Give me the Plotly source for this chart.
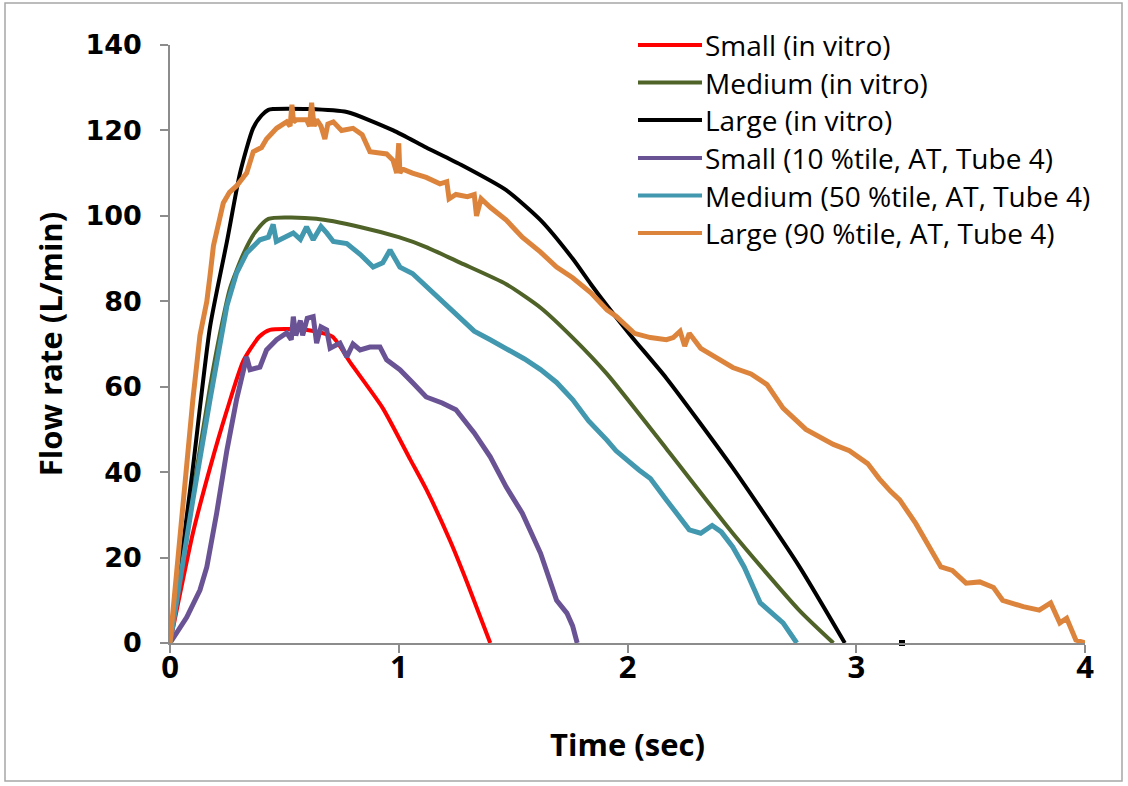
import plotly.graph_objects as go

# ---------------- data ----------------
x_ticks = [0, 1, 2, 3, 4]
y_ticks = [0, 20, 40, 60, 80, 100, 120, 140]

names = ["Small (in vitro)", "Medium (in vitro)", "Large (in vitro)",
         "Small (10 %tile, AT, Tube 4)", "Medium (50 %tile, AT, Tube 4)",
         "Large (90 %tile, AT, Tube 4)"]
colors = ["#FF0000", "#4F6228", "#000000", "#6A5394", "#4198AF", "#DD843C"]

small_vitro_t = [0, 0.1, 0.175, 0.249, 0.32, 0.39, 0.437, 0.6, 0.71, 0.79, 0.93, 1.05, 1.12, 1.224, 1.30, 1.40]
small_vitro_q = [0, 25.7, 41, 54.5, 66, 71.7, 73.3, 73.3, 71.7, 65.5, 55, 43, 36, 24, 14, 0]

medium_vitro_t = [0, 0.1, 0.175, 0.219, 0.262, 0.32, 0.37, 0.43, 0.64, 0.83, 1.0, 1.12, 1.27, 1.47, 1.62, 1.76, 1.91, 2.17, 2.46, 2.75, 2.90]
medium_vitro_q = [0, 35, 60, 72.6, 83, 91, 96, 99.3, 99.3, 97.4, 95, 92.7, 89, 84, 78.5, 71.5, 63, 45.5, 25.7, 7.7, 0]

large_vitro_t = [0, 0.05, 0.1, 0.175, 0.249, 0.306, 0.363, 0.40, 0.43, 0.45, 0.6, 0.773, 0.976, 1.12, 1.27, 1.47, 1.62, 1.76, 1.84, 1.91, 2.02, 2.17, 2.46, 2.75, 2.95]
large_vitro_q = [0, 20, 41, 74, 94, 110, 120.5, 123.5, 124.8, 125, 125, 124.3, 120, 116, 112, 106, 99, 90, 84, 79, 71.6, 62, 41, 18, 0]

small_at_t = [0, 0.073, 0.131, 0.161, 0.204, 0.249, 0.291, 0.32, 0.335, 0.35, 0.393, 0.422, 0.466, 0.51, 0.53, 0.539,
              0.55, 0.57, 0.58, 0.60, 0.626, 0.641, 0.66, 0.685, 0.70, 0.743, 0.773, 0.80, 0.831, 0.874, 0.918, 0.947,
              1.005, 1.06, 1.12, 1.19, 1.25, 1.33, 1.40, 1.47, 1.54, 1.62, 1.69, 1.735, 1.76, 1.78]
small_at_q = [0, 6, 12.4, 17.8, 30.4, 45.2, 57, 64, 67, 64, 64.6, 68.6, 71, 72.6, 71, 76.4,
              72, 75.5, 72, 76, 76.4, 70.2, 74, 73.3, 69, 70.2, 67, 70, 68.6, 69.3, 69.3, 66.3,
              64, 61, 57.6, 56.2, 54.6, 49.2, 43.6, 36.5, 30.4, 21, 10, 7, 4, 0]

medium_at_t = [0, 0.029, 0.1, 0.175, 0.219, 0.249, 0.291, 0.335, 0.393, 0.43, 0.451, 0.465, 0.48, 0.539, 0.57, 0.597,
               0.626, 0.66, 0.685, 0.714, 0.773, 0.831, 0.888, 0.93, 0.962, 1.005, 1.06, 1.12, 1.19, 1.25, 1.33, 1.40,
               1.47, 1.55, 1.62, 1.69, 1.76, 1.83, 1.91, 1.95, 2.05, 2.10, 2.17, 2.22, 2.27, 2.32, 2.37, 2.41, 2.46,
               2.51, 2.58, 2.68, 2.74]
medium_at_q = [0, 10, 33.5, 57, 71, 79, 86.6, 91.3, 94.4, 95, 98, 94, 94.4, 96, 94.5, 97.4,
               94.4, 97.5, 96, 94, 93.5, 91, 88, 89, 92, 88, 86.5, 83.5, 80, 77, 73, 71,
               69, 66.5, 64, 61, 57, 52, 47.5, 45, 40.5, 38.5, 33.5, 30, 26.5, 25.7, 27.5, 26, 22.5,
               17.8, 9.4, 4.7, 0]

large_at_t = [0, 0.02, 0.044, 0.07, 0.1, 0.131, 0.161, 0.175, 0.19, 0.233, 0.26, 0.291, 0.335, 0.364, 0.40, 0.422,
              0.466, 0.51, 0.525, 0.533, 0.54, 0.553, 0.597, 0.61, 0.619, 0.63, 0.641, 0.66, 0.677, 0.69, 0.714,
              0.75, 0.80, 0.84, 0.874, 0.947, 0.975, 0.991, 1.0, 1.005, 1.015, 1.06, 1.12, 1.18, 1.21, 1.22, 1.25,
              1.30, 1.33, 1.34, 1.36, 1.40, 1.47, 1.54, 1.62, 1.69, 1.76, 1.84, 1.91, 1.95, 1.98, 2.03, 2.10, 2.17,
              2.20, 2.23, 2.25, 2.27, 2.32, 2.40, 2.46, 2.54, 2.61, 2.68, 2.78, 2.90, 2.97, 3.05, 3.10, 3.15, 3.19,
              3.26, 3.32, 3.37, 3.42, 3.48, 3.54, 3.60, 3.64, 3.73, 3.80, 3.85, 3.89, 3.92, 3.96, 4.0]
large_at_q = [0, 12, 26, 42, 57, 72, 80, 86, 93, 103, 105.5, 107, 110, 115, 116, 118,
              120.5, 122, 121, 126, 122, 122.5, 122.5, 121, 126.5, 121, 122.5, 121, 118, 121.5, 122,
              120, 120.5, 119, 115, 114.5, 113, 110, 117, 110, 111, 110, 109, 107.5, 108, 104, 105,
              104.5, 105, 100, 104, 102, 99, 95, 91.5, 88, 85.5, 82, 78, 76.5, 75, 72.5, 71.5, 71,
              71.5, 73, 69.5, 72.5, 69, 66.5, 64.5, 63, 60.5, 55, 50, 46.5, 45, 42, 38.5, 35.5, 33.5,
              28, 22.5, 17.8, 17, 14, 14.3, 13, 10, 8.5, 7.7, 9.4, 4.7, 5.8, 0.7, 0]

stray_t = [3.2]
stray_q = [0]

series_t = [small_vitro_t, medium_vitro_t, large_vitro_t, small_at_t, medium_at_t, large_at_t]
series_q = [small_vitro_q, medium_vitro_q, large_vitro_q, small_at_q, medium_at_q, large_at_q]
widths = [4, 4, 4, 5, 5, 5]
shapes_kind = ["spline", "spline", "spline", "linear", "linear", "linear"]

# ---------------- figure ----------------
W, H = 1128, 786
ML, MR, MT, MB = 170, 43, 45, 143
PW, PH = W - ML - MR, H - MT - MB


def px2paper_x(px):
    return (px - ML) / PW


def px2paper_y(py):
    return (H - MB - py) / PH


fig = go.Figure()
for t, q, n, c, w, sk in zip(series_t, series_q, names, colors, widths, shapes_kind):
    line = dict(color=c, width=w, shape=sk)
    if sk == "spline":
        line["smoothing"] = 0.6
    fig.add_trace(go.Scatter(x=t, y=q, name=n, mode="lines", line=line, showlegend=False))
fig.add_trace(go.Scatter(x=stray_t, y=stray_q, mode="markers", showlegend=False,
                         marker=dict(color="black", size=6, symbol="square"),
                         cliponaxis=False))

axis_color = "#8C8C8C"
fig.update_xaxes(range=[0, 4], tickvals=x_ticks, showline=True, linecolor=axis_color, linewidth=1.5,
                 ticks="outside", ticklen=8, tickcolor=axis_color, tickwidth=1.5,
                 showgrid=False, zeroline=False, ticklabelstandoff=-12,
                 tickfont=dict(family="Open Sans", size=31, color="black", weight="bold"),
                 title=dict(text="Time (sec)", standoff=48,
                            font=dict(family="Open Sans", size=31, color="black", weight="bold")))
fig.update_yaxes(range=[0, 140], tickvals=y_ticks, showline=True, linecolor=axis_color, linewidth=1.5,
                 ticks="outside", ticklen=8, tickcolor=axis_color, tickwidth=1.5,
                 showgrid=False, zeroline=False, ticklabelstandoff=13,
                 tickfont=dict(family="DejaVu Sans", size=27, color="black", weight="bold"),
                 title=dict(text="Flow rate (L/min)", standoff=14,
                            font=dict(family="Open Sans", size=31, color="black", weight="bold")))

# manual legend (long line samples like the original)
legend_rows = [45, 82.5, 120, 158, 195.5, 233]
shapes = []
annotations = []
for n, c, row in zip(names, colors, legend_rows):
    shapes.append(dict(type="line", xref="paper", yref="paper",
                       x0=px2paper_x(638), x1=px2paper_x(702),
                       y0=px2paper_y(row), y1=px2paper_y(row),
                       line=dict(color=c, width=4)))
    annotations.append(dict(xref="paper", yref="paper", x=px2paper_x(703), y=px2paper_y(row),
                            text=n, showarrow=False, xanchor="left", yanchor="middle",
                            font=dict(family="Open Sans", size=28, color="black")))

# outer chart border
shapes.append(dict(type="rect", xref="paper", yref="paper",
                   x0=px2paper_x(5), x1=px2paper_x(1122),
                   y0=px2paper_y(781), y1=px2paper_y(3),
                   line=dict(color="#A6A6A6", width=1.5), fillcolor="rgba(0,0,0,0)"))

fig.update_layout(width=W, height=H, margin=dict(l=ML, r=MR, t=MT, b=MB),
                  paper_bgcolor="white", plot_bgcolor="white",
                  shapes=shapes, annotations=annotations, showlegend=False)

fig.write_html("out.html", config={"displayModeBar": False},
               post_script="document.body.style.margin='0';document.body.style.overflow='hidden';")
